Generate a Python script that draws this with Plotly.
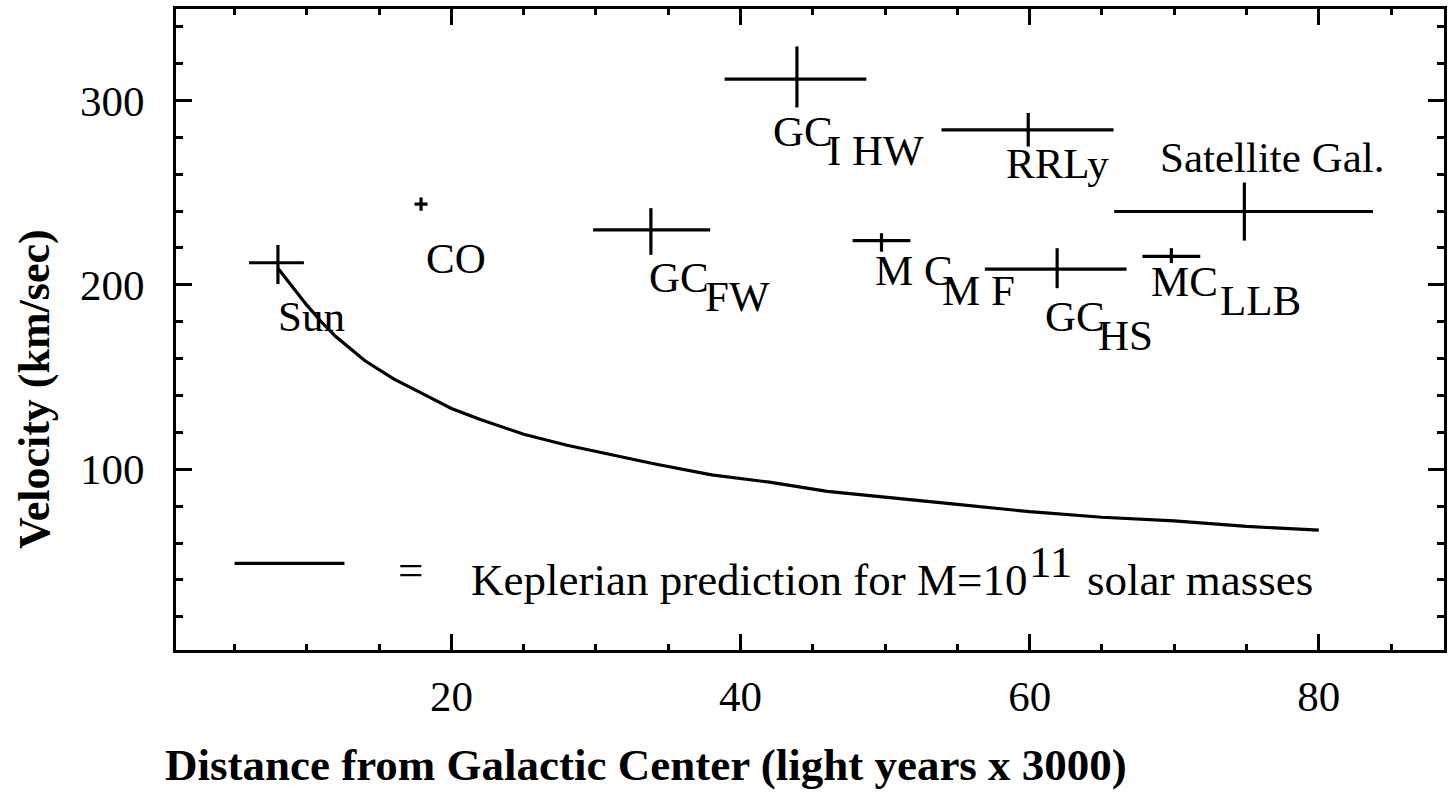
import plotly.graph_objects as go

# Rotation-curve measurements (distance in units of 3000 light years, velocity in km/s)
names = ["Sun", "CO", "GC_IHW", "RRLy", "Satellite", "GC_FW", "MC_MF", "GC_HS", "MC_LLB"]
dist = [8.0, 17.9, 43.9, 59.9, 74.85, 33.8, 49.75, 61.9, 69.8]
dist_err_minus = [2.0, 0.45, 5.0, 6.0, 9.0, 4.0, 2.0, 5.0, 2.0]
dist_err_plus = [1.8, 0.45, 4.8, 5.9, 8.9, 4.1, 2.0, 4.8, 2.0]
vel = [212.0, 243.8, 311.6, 284.1, 239.8, 229.8, 224.0, 208.5, 215.4]
vel_err_plus = [9.6, 3.6, 17.7, 9.1, 15.7, 11.8, 4.0, 11.4, 4.5]
vel_err_minus = [11.5, 3.6, 15.4, 9.1, 15.8, 13.5, 6.0, 10.3, 3.6]

# Keplerian prediction for M = 1e11 solar masses
kep_r = [8, 9, 10, 11, 12, 14, 16, 18, 20, 22, 25, 28, 31, 34, 38, 42, 46, 50, 55, 60, 65, 70, 75, 80]
kep_v = [209, 199, 189, 180, 172, 159, 149, 141, 133, 127, 119, 113, 108, 103, 97, 93, 88, 85, 81, 77, 74, 72, 69, 67]

# Legend sample line
legend_r = [5.0, 12.6]
legend_v = [49.0, 49.0]

x_ticks = [20, 40, 60, 80]
y_ticks = [100, 200, 300]

FONT = "Liberation Serif"
TXT = 43

fig = go.Figure()

fig.add_trace(go.Scatter(
    x=kep_r, y=kep_v, mode="lines",
    line=dict(color="black", width=3.2), showlegend=False, hoverinfo="skip"))

fig.add_trace(go.Scatter(
    x=legend_r, y=legend_v, mode="lines",
    line=dict(color="black", width=3.2), showlegend=False, hoverinfo="skip"))

fig.add_trace(go.Scatter(
    x=dist, y=vel, mode="markers",
    marker=dict(size=1, color="rgba(0,0,0,0)"),
    error_x=dict(type="data", symmetric=False, array=dist_err_plus,
                 arrayminus=dist_err_minus, thickness=3.2, width=0, color="black"),
    error_y=dict(type="data", symmetric=False, array=vel_err_plus,
                 arrayminus=vel_err_minus, thickness=3.2, width=0, color="black"),
    showlegend=False, hoverinfo="skip"))

# Point labels: (point index, text, anchor, xshift px, yshift px)
point_labels = [
    (0, "Sun", "left", -2, -54),
    (1, "CO", "left", 3, -54),
    (2, "GC", "left", -26, -52),
    (2, "I HW", "left", 28, -71),
    (3, "RRLy", "left", -24, -34),
    (4, "Satellite Gal.", "right", 143, 54),
    (5, "GC", "left", -4, -48),
    (5, "FW", "left", 52, -67),
    (6, "M C", "left", -8, -30),
    (6, "M F", "left", 59, -50),
    (7, "GC", "left", -14, -47),
    (7, "HS", "left", 39, -66),
    (8, "MC", "left", -22, -25),
    (8, "LLB", "left", 47, -44),
]

annotations = []
for i, text, anchor, dx, dy in point_labels:
    annotations.append(dict(
        x=dist[i], y=vel[i], xref="x", yref="y", text=text, showarrow=False,
        xanchor=anchor, yanchor="middle", xshift=dx, yshift=dy,
        font=dict(family=FONT, size=TXT, color="black")))

# Legend text next to the sample line: (text, x, y, anchor)
LEG = 45
legend_texts = [
    ("=", 17.2, 45.4, "center"),
    ("Keplerian prediction for M=10", 21.2, 40.0, "left"),
    ("11", 59.8, 49.5, "left"),
    ("solar masses", 63.8, 40.0, "left"),
]
for text, x, y, anchor in legend_texts:
    annotations.append(dict(
        x=x, y=y, xref="x", yref="y", text=text, showarrow=False,
        xanchor=anchor, yanchor="middle",
        font=dict(family=FONT, size=LEG, color="black")))

# Axis titles
annotations.append(dict(
    x=-0.0102, y=-0.1795, xref="paper", yref="paper",
    text="<b>Distance from Galactic Center (light years x 3000)</b>",
    showarrow=False, xanchor="left", yanchor="middle",
    font=dict(family=FONT, size=45, color="black")))
annotations.append(dict(
    x=-0.111, y=0.4074, xref="paper", yref="paper",
    text="<b>Velocity (km/sec)</b>", textangle=-90,
    showarrow=False, xanchor="center", yanchor="middle",
    font=dict(family=FONT, size=44, color="black")))

axis_common = dict(
    showline=True, linecolor="black", linewidth=3, mirror="allticks",
    ticks="inside", ticklen=16, tickwidth=3, tickcolor="black",
    showgrid=False, zeroline=False,
    tickfont=dict(family=FONT, size=TXT, color="black"),
)

fig.update_layout(
    width=1449, height=792,
    margin=dict(l=176, r=2, t=9, b=142),
    paper_bgcolor="white", plot_bgcolor="white",
    showlegend=False,
    xaxis=dict(range=[0.95, 88.66], tickvals=x_ticks, ticklabelstandoff=6,
               minor=dict(ticks="inside", ticklen=6, tickwidth=3, tickcolor="black",
                          dtick=5, tick0=0, showgrid=False),
               **axis_common),
    yaxis=dict(range=[2, 349.6], tickvals=y_ticks, ticklabelstandoff=20,
               minor=dict(ticks="inside", ticklen=7, tickwidth=3, tickcolor="black",
                          dtick=20, tick0=0, showgrid=False),
               **axis_common),
    annotations=annotations,
)

fig.write_html("out.html")
